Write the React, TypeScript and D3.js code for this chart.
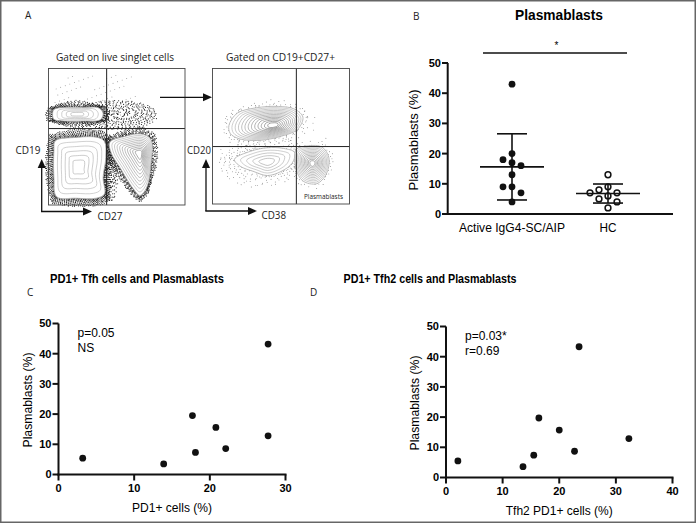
import React from "react";
import * as d3 from "d3";

// ---------- data ----------
const bCategories = ["Active IgG4-SC/AIP", "HC"];
const bActive = [43, 18, 20, 17, 16, 13, 9, 9, 7, 4];
const bHC = [13, 8, 7, 9, 7, 6, 5, 4, 2];
const bTicks = [0, 10, 20, 30, 40, 50];

const cPD1 = [3.2, 13.9, 17.7, 18.1, 20.8, 22.1, 27.7, 27.7];
const cPlasma = [5.4, 3.5, 19.5, 7.3, 15.6, 8.6, 43.2, 12.8];
const cXTicks = [0, 10, 20, 30];

const dTfh2 = [2.1, 13.6, 15.5, 16.4, 20.0, 22.7, 23.5, 32.3];
const dPlasma = [5.5, 3.6, 7.4, 19.7, 15.7, 8.7, 43.3, 12.9];
const dXTicks = [0, 10, 20, 30, 40];
const yTicks = [0, 10, 20, 30, 40, 50];

// flow cytometry population outlines (fractions of the plot box)
type Pop = { pts: [number, number][]; c: [number, number]; levels: number; dots: number; spread: number; tone: number };
type Cloud = { c: [number, number]; r: [number, number]; n: number };
const flowPops1: Pop[] = [
  { pts: [[0.04, 0.3], [0.12, 0.285], [0.25, 0.285], [0.37, 0.29], [0.4, 0.33], [0.38, 0.375], [0.25, 0.385], [0.12, 0.385], [0.04, 0.372], [0.03, 0.335]], c: [0.21, 0.335], levels: 5, dots: 650, spread: 6, tone: 0.62 },
  { pts: [[0.05, 0.53], [0.2, 0.505], [0.36, 0.505], [0.41, 0.535], [0.42, 0.65], [0.4, 0.8], [0.41, 0.92], [0.35, 0.95], [0.2, 0.95], [0.06, 0.94], [0.04, 0.8], [0.04, 0.6]], c: [0.22, 0.72], levels: 6, dots: 1300, spread: 7, tone: 0.62 },
  { pts: [[0.45, 0.54], [0.55, 0.5], [0.68, 0.48], [0.75, 0.52], [0.75, 0.7], [0.72, 0.87], [0.67, 0.93], [0.62, 0.88], [0.52, 0.72], [0.46, 0.62]], c: [0.67, 0.62], levels: 11, dots: 800, spread: 6, tone: 0.38 },
];
const flowClouds1: Cloud[] = [
  { c: [0.5, 0.34], r: [0.3, 0.11], n: 420 },
  { c: [0.45, 0.78], r: [0.06, 0.2], n: 160 },
];
const flowPops2: Pop[] = [
  { pts: [[0.12, 0.42], [0.18, 0.33], [0.32, 0.29], [0.48, 0.28], [0.6, 0.3], [0.66, 0.36], [0.62, 0.45], [0.5, 0.5], [0.35, 0.53], [0.2, 0.52], [0.13, 0.48]], c: [0.45, 0.42], levels: 13, dots: 130, spread: 6, tone: 0.3 },
  { pts: [[0.16, 0.67], [0.28, 0.61], [0.4, 0.585], [0.52, 0.59], [0.6, 0.62], [0.58, 0.7], [0.5, 0.76], [0.4, 0.79], [0.3, 0.76], [0.2, 0.72]], c: [0.4, 0.69], levels: 5, dots: 150, spread: 11, tone: 0.55 },
  { pts: [[0.61, 0.6], [0.7, 0.57], [0.8, 0.58], [0.85, 0.66], [0.83, 0.78], [0.76, 0.85], [0.66, 0.83], [0.61, 0.74]], c: [0.73, 0.7], levels: 12, dots: 80, spread: 5, tone: 0.4 },
];
const flowClouds2: Cloud[] = [
  { c: [0.35, 0.68], r: [0.32, 0.2], n: 150 },
  { c: [0.45, 0.45], r: [0.4, 0.2], n: 60 },
];

const FONT = "'Liberation Sans', Arial, Helvetica, sans-serif";
const W = 697;
const H = 524;

const frac = (v: number) => v - Math.floor(v);

function swarm(values: number[], y: (v: number) => number, cx: number, minD = 9, step = 4.5) {
  const order = values.map((_, i) => i).sort((a, b) => values[b] - values[a]);
  const placed: { x: number; y: number }[] = [];
  const xs = new Array(values.length).fill(cx);
  for (const i of order) {
    const py = y(values[i]);
    let chosen = 0;
    outer: for (let k = 0; k < 40; k++) {
      const cands = k === 0 ? [0] : [-k * step, k * step];
      for (const o of cands) {
        if (placed.every((p) => Math.hypot(p.x - (cx + o), p.y - py) >= minD)) {
          chosen = o;
          break outer;
        }
      }
    }
    placed.push({ x: cx + chosen, y: py });
    xs[i] = cx + chosen;
  }
  return xs;
}

function FlowPlot({ x0, y0, w, h, pops, clouds, divX, divY, seed, dotColor, dotR, dustN }: { x0: number; y0: number; w: number; h: number; pops: Pop[]; clouds: Cloud[]; divX: number; divY: number; seed: number; dotColor: string; dotR: number; dustN: number }) {
  const line = d3.line<[number, number]>().curve(d3.curveCatmullRomClosed.alpha(0.5));
  const px = (p: [number, number]): [number, number] => [x0 + p[0] * w, y0 + p[1] * h];
  const elems: React.ReactNode[] = [];
  const dots: [number, number][] = [];
  clouds.forEach((cl, ci) => {
    for (let k = 0; k < cl.n; k++) {
      const a = frac((k + seed + ci * 71) * 0.6180339887) * Math.PI * 2;
      const r = Math.sqrt(frac((k + seed + ci * 37) * 0.7548776662));
      dots.push([x0 + (cl.c[0] + Math.cos(a) * r * cl.r[0]) * w, y0 + (cl.c[1] + Math.sin(a) * r * cl.r[1]) * h]);
    }
  });
  pops.forEach((pop, pi) => {
    const c = px(pop.c);
    const P = pop.pts.map(px);
    const segs: number[] = [];
    let tot = 0;
    for (let i = 0; i < P.length; i++) {
      const a = P[i], b = P[(i + 1) % P.length];
      const l = Math.hypot(b[0] - a[0], b[1] - a[1]);
      segs.push(l);
      tot += l;
    }
    for (let k = 0; k < pop.dots; k++) {
      const t = frac((k + seed + pi * 131) * 0.6180339887) * tot;
      const u = frac((k + seed) * 0.7548776662);
      let acc = 0, si = 0;
      while (si < segs.length - 1 && acc + segs[si] < t) { acc += segs[si]; si++; }
      const f = segs[si] > 0 ? (t - acc) / segs[si] : 0;
      const a = P[si], b = P[(si + 1) % P.length];
      const qx = a[0] + (b[0] - a[0]) * f, qy = a[1] + (b[1] - a[1]) * f;
      const dx = qx - c[0], dy = qy - c[1];
      const len = Math.hypot(dx, dy) || 1;
      const d = -0.5 + pop.spread * Math.pow(u, 1.6) * 1.3;
      dots.push([qx + (dx / len) * d, qy + (dy / len) * d]);
    }
    for (let l = 0; l < pop.levels; l++) {
      const s = 1 - (l / pop.levels) * 0.93;
      const ring = P.map((p) => [c[0] + (p[0] - c[0]) * s, c[1] + (p[1] - c[1]) * s] as [number, number]);
      const g = Math.round(255 * (0.68 - (l / pop.levels) * (0.68 - pop.tone)));
      elems.push(
        <path key={`r${pi}-${l}`} d={line(ring) || ""} fill={l === 0 ? "#fff" : "none"} stroke={`rgb(${g},${g},${g})`} strokeWidth={l === 0 ? 0.8 : 0.55} />
      );
    }
  });
  const dust: [number, number][] = [];
  for (let k = 0; k < dustN; k++) {
    const u = frac((k + seed) * 0.6180339887), v = frac((k + seed) * 0.7548776662);
    dust.push([x0 + w * (0.04 + 0.6 * u), y0 + h * (0.05 + 0.3 * v)]);
  }
  return (
    <g>
      <rect x={x0} y={y0} width={w} height={h} fill="#fff" />
      {dust.map((p, i) => <circle key={`d${i}`} cx={p[0]} cy={p[1]} r={0.45} fill="#666" />)}
      {dots.map((p, i) => <circle key={`s${i}`} cx={p[0]} cy={p[1]} r={dotR} fill={dotColor} />)}
      {elems}
      <line x1={x0 + divX * w} x2={x0 + divX * w} y1={y0} y2={y0 + h} stroke="#222" strokeWidth={1} />
      <line x1={x0} x2={x0 + w} y1={y0 + divY * h} y2={y0 + divY * h} stroke="#222" strokeWidth={1} />
      <rect x={x0} y={y0} width={w} height={h} fill="none" stroke="#444" strokeWidth={0.9} />
    </g>
  );
}

function Arrow({ x1, y1, x2, y2 }: { x1: number; y1: number; x2: number; y2: number }) {
  const ang = Math.atan2(y2 - y1, x2 - x1);
  const L = 9, Wd = 4;
  const bx = x2 - L * Math.cos(ang), by = y2 - L * Math.sin(ang);
  const nx = -Math.sin(ang) * Wd, ny = Math.cos(ang) * Wd;
  return (
    <g>
      <line x1={x1} y1={y1} x2={bx} y2={by} stroke="#111" strokeWidth={1.3} />
      <path d={`M${x2},${y2}L${bx + nx},${by + ny}L${bx - nx},${by - ny}Z`} fill="#111" />
    </g>
  );
}

function ScatterPanel({ xs, ys, xScale, yScale, xTicks, xLabel, yLabelX, xLabelLen, ann, annX }: any) {
  const ax = xScale(0), ay = yScale(0);
  const xMax = xScale(xTicks[xTicks.length - 1]);
  return (
    <g fontFamily={FONT}>
      <line x1={ax} x2={ax} y1={yScale(50)} y2={ay + 1} stroke="#111" strokeWidth={2} />
      <line x1={ax - 1} x2={xMax + 1} y1={ay} y2={ay} stroke="#111" strokeWidth={2} />
      {yTicks.map((t) => (
        <g key={`y${t}`}>
          <line x1={ax - 6} x2={ax} y1={yScale(t)} y2={yScale(t)} stroke="#111" strokeWidth={2} />
          <text x={ax - 7} y={yScale(t)} dy="0.36em" textAnchor="end" fontSize={11} fontWeight="bold">{t}</text>
        </g>
      ))}
      {xTicks.map((t: number) => (
        <g key={`x${t}`}>
          <line x1={xScale(t)} x2={xScale(t)} y1={ay} y2={ay + 6} stroke="#111" strokeWidth={2} />
          <text x={xScale(t)} y={ay + 17} textAnchor="middle" fontSize={11} fontWeight="bold">{t}</text>
        </g>
      ))}
      {xs.map((v: number, i: number) => (
        <circle key={`p${i}`} cx={xScale(v)} cy={yScale(ys[i])} r={3.4} fill="#111" />
      ))}
      <text x={(ax + xMax) / 2} y={ay + 37} textAnchor="middle" fontSize={12} textLength={xLabelLen} lengthAdjust="spacingAndGlyphs">{xLabel}</text>
      <text transform={`translate(${yLabelX},${(yScale(0) + yScale(50)) / 2 + 1}) rotate(-90)`} textAnchor="middle" fontSize={12.5} textLength={95} lengthAdjust="spacingAndGlyphs">Plasmablasts (%)</text>
      <text x={annX} y={yScale(50) + 13} fontSize={12}>{ann[0]}</text>
      <text x={annX} y={yScale(50) + 28} fontSize={12}>{ann[1]}</text>
    </g>
  );
}

export default function App() {
  const by = d3.scaleLinear().domain([0, 50]).range([214, 63]);
  const bx = d3.scalePoint<string>().domain(bCategories).range([512, 608]);
  const groups = [bActive, bHC];
  const cY = d3.scaleLinear().domain([0, 50]).range([474.5, 323.5]);
  const cX = d3.scaleLinear().domain([0, 30]).range([58.5, 285.5]);
  const dY = d3.scaleLinear().domain([0, 50]).range([477.5, 326.5]);
  const dX = d3.scaleLinear().domain([0, 40]).range([446, 672.5]);

  return (
    <svg width={W} height={H} style={{ position: "absolute", left: 0, top: 0, background: "#fff" }} fontFamily={FONT}>
      <rect x={0} y={0} width={W} height={H} fill="#fff" />
      <rect x={0.75} y={0.75} width={W - 2.5} height={H - 2.5} fill="none" stroke="#666" strokeWidth={1.5} />

      <g fontFamily="'Open Sans', 'DejaVu Sans', sans-serif" fontSize={10} fill="#222">
        <text x={25} y={18.5}>A</text>
        <text x={413} y={19.5}>B</text>
        <text x={27} y={296}>C</text>
        <text x={310} y={296}>D</text>
      </g>

      {/* Panel A */}
      <g fontFamily="'Open Sans', 'DejaVu Sans', sans-serif" fill="#222">
        <text x={115} y={60.5} textAnchor="middle" fontSize={10} textLength={118} lengthAdjust="spacingAndGlyphs">Gated on live singlet cells</text>
        <text x={280.5} y={60.5} textAnchor="middle" fontSize={10} textLength={109} lengthAdjust="spacingAndGlyphs">Gated on CD19+CD27+</text>
        <FlowPlot x0={48.5} y0={68.5} w={136.5} h={136.5} pops={flowPops1} clouds={flowClouds1} divX={0.426} divY={0.44} seed={3} dotColor="#111" dotR={0.55} dustN={70} />
        <FlowPlot x0={212.5} y0={68.5} w={137} h={135.5} pops={flowPops2} clouds={flowClouds2} divX={0.612} divY={0.576} seed={11} dotColor="#555" dotR={0.45} dustN={0} />
        <Arrow x1={160} y1={97.3} x2={212} y2={97.3} />
        <Arrow x1={41.7} y1={211.5} x2={41.7} y2={159} />
        <Arrow x1={41} y1={211.5} x2={92} y2={211.5} />
        <Arrow x1={206} y1={211} x2={206} y2={159} />
        <Arrow x1={205.3} y1={211} x2={257} y2={211} />
        <text x={15.5} y={154} fontSize={10} textLength={25} lengthAdjust="spacingAndGlyphs">CD19</text>
        <text x={187} y={154} fontSize={10} textLength={24} lengthAdjust="spacingAndGlyphs">CD20</text>
        <text x={97.5} y={220} fontSize={10} textLength={25} lengthAdjust="spacingAndGlyphs">CD27</text>
        <text x={261.5} y={219} fontSize={10} textLength={24.5} lengthAdjust="spacingAndGlyphs">CD38</text>
        <text x={343} y={198.5} textAnchor="end" fontSize={6.5} textLength={39} lengthAdjust="spacingAndGlyphs">Plasmablasts</text>
      </g>

      {/* Panel B */}
      <g>
        <text x={559} y={20} textAnchor="middle" fontSize={14} fontWeight="bold" textLength={88} lengthAdjust="spacingAndGlyphs">Plasmablasts</text>
        <line x1={483} x2={627} y1={53} y2={53} stroke="#111" strokeWidth={1.6} />
        <text x={556.5} y={49} textAnchor="middle" fontSize={10}>*</text>
        <line x1={447.7} x2={447.7} y1={by(50)} y2={by(0) + 1} stroke="#111" strokeWidth={2} />
        <line x1={447} x2={673} y1={by(0)} y2={by(0)} stroke="#111" strokeWidth={2} />
        {bTicks.map((t) => (
          <g key={`bt${t}`}>
            <line x1={442} x2={448} y1={by(t)} y2={by(t)} stroke="#111" strokeWidth={2} />
            <text x={441} y={by(t)} dy="0.36em" textAnchor="end" fontSize={11} fontWeight="bold">{t}</text>
          </g>
        ))}
        <text transform={`translate(${418},${140}) rotate(-90)`} textAnchor="middle" fontSize={12.5} textLength={101} lengthAdjust="spacingAndGlyphs">Plasmablasts (%)</text>
        {bCategories.map((cat, gi) => {
          const vals = groups[gi];
          const cx = bx(cat)!;
          const m = d3.mean(vals)!;
          const sd = d3.deviation(vals)!;
          const xs = swarm(vals, by, cx);
          return (
            <g key={cat}>
              <text x={cx} y={232} textAnchor="middle" fontSize={12} textLength={gi === 0 ? 106 : 17} lengthAdjust="spacingAndGlyphs">{cat}</text>
              {vals.map((v, i) =>
                gi === 0 ? (
                  <circle key={i} cx={xs[i]} cy={by(v)} r={3.4} fill="#111" />
                ) : (
                  <circle key={i} cx={xs[i]} cy={by(v)} r={2.9} fill="#fff" stroke="#111" strokeWidth={1.5} />
                )
              )}
              <line x1={cx - 32} x2={cx + 32} y1={by(m)} y2={by(m)} stroke="#111" strokeWidth={1.6} />
              <line x1={cx} x2={cx} y1={by(m + sd)} y2={by(m - sd)} stroke="#111" strokeWidth={1.6} />
              <line x1={cx - 15} x2={cx + 15} y1={by(m + sd)} y2={by(m + sd)} stroke="#111" strokeWidth={1.6} />
              <line x1={cx - 15} x2={cx + 15} y1={by(m - sd)} y2={by(m - sd)} stroke="#111" strokeWidth={1.6} />
            </g>
          );
        })}
      </g>

      {/* Panel C */}
      <text x={137} y={283} textAnchor="middle" fontSize={13} fontWeight="bold" textLength={174} lengthAdjust="spacingAndGlyphs">PD1+ Tfh cells and Plasmablasts</text>
      <ScatterPanel xs={cPD1} ys={cPlasma} xScale={cX} yScale={cY} xTicks={cXTicks} xLabel="PD1+ cells (%)" xLabelLen={80} yLabelX={32} ann={["p=0.05", "NS"]} annX={77.5} />

      {/* Panel D */}
      <text x={430} y={283} textAnchor="middle" fontSize={13} fontWeight="bold" textLength={173} lengthAdjust="spacingAndGlyphs">PD1+ Tfh2 cells and Plasmablasts</text>
      <ScatterPanel xs={dTfh2} ys={dPlasma} xScale={dX} yScale={dY} xTicks={dXTicks} xLabel="Tfh2 PD1+ cells (%)" xLabelLen={107} yLabelX={419} ann={["p=0.03*", "r=0.69"]} annX={465} />
    </svg>
  );
}
